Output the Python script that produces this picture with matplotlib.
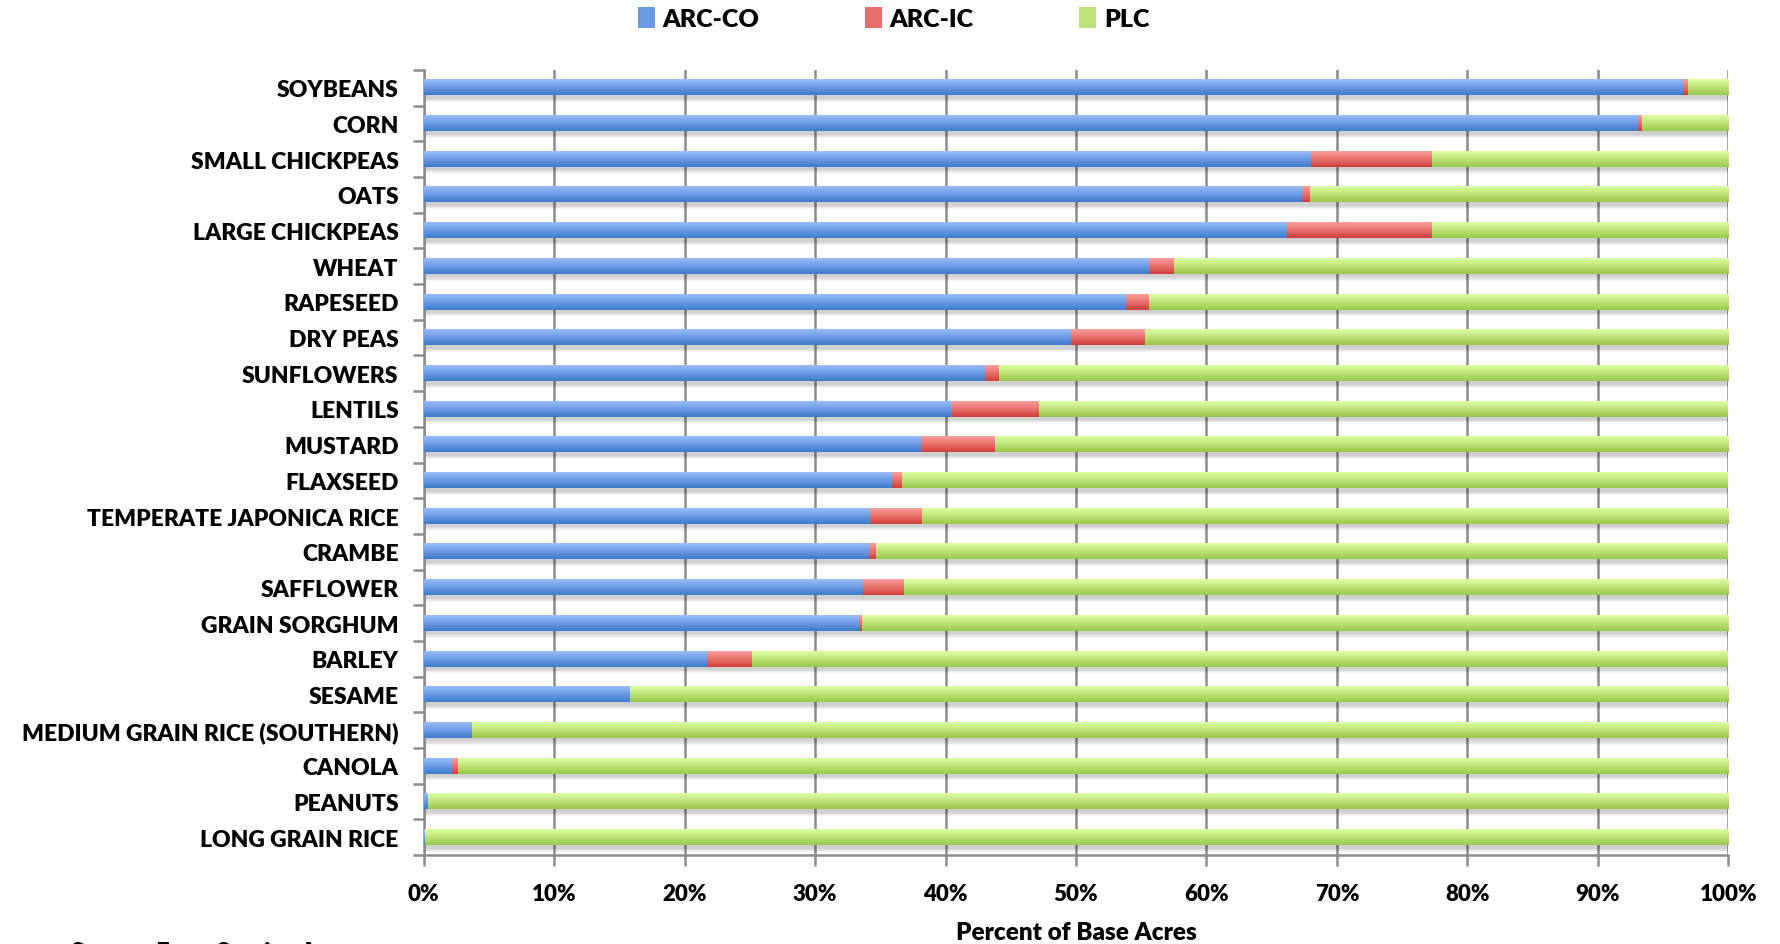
import matplotlib
matplotlib.use("Agg")
import matplotlib.pyplot as plt
import numpy as np
from matplotlib.colors import LinearSegmentedColormap
from matplotlib.patches import Patch

plt.rcParams["font.family"] = ["Lato", "DejaVu Sans"]
plt.rcParams["font.weight"] = "heavy"

crops = [
    "SOYBEANS", "CORN", "SMALL CHICKPEAS", "OATS", "LARGE CHICKPEAS",
    "WHEAT", "RAPESEED", "DRY PEAS", "SUNFLOWERS", "LENTILS", "MUSTARD",
    "FLAXSEED", "TEMPERATE JAPONICA RICE", "CRAMBE", "SAFFLOWER",
    "GRAIN SORGHUM", "BARLEY", "SESAME", "MEDIUM GRAIN RICE (SOUTHERN)",
    "CANOLA", "PEANUTS", "LONG GRAIN RICE",
]
arc_co = [96.5, 93.1, 68.0, 67.3, 66.2, 55.6, 53.8, 49.6, 43.0, 40.5, 38.1,
          35.9, 34.2, 34.1, 33.7, 33.4, 21.7, 15.8, 3.7, 2.2, 0.3, 0.1]
arc_ic = [0.4, 0.3, 9.3, 0.6, 11.1, 1.9, 1.8, 5.7, 1.1, 6.7, 5.7,
          0.8, 4.0, 0.6, 3.1, 0.2, 3.5, 0.0, 0.0, 0.4, 0.0, 0.0]
plc = [100 - a - b for a, b in zip(arc_co, arc_ic)]

series = [
    ("ARC-CO", arc_co, ("#3d7bcb", "#99bdf8"), "#6b9be4"),
    ("ARC-IC", arc_ic, ("#cf3f3b", "#fb9f9c"), "#e7706c"),
    ("PLC", plc, ("#97c84a", "#ddffa3"), "#bde378"),
]
x_ticks = np.arange(0, 101, 10)
x_tick_labels = [f"{t}%" for t in x_ticks]

fig = plt.figure(figsize=(17.8, 9.45), dpi=100)
ax = fig.add_axes([0.238, 0.094, 0.733, 0.831])

n = len(crops)
y = np.arange(n)[::-1]
bar_h = 0.43

# soft shadow under each full bar
for k, a in enumerate([0.05, 0.05, 0.05, 0.04]):
    ax.barh(y - 0.10 - 0.03 * k, [100] * n, height=bar_h, color="#000000",
            alpha=a, linewidth=0, zorder=2)

gradient = np.linspace(0, 1, 64).reshape(-1, 1)
left = np.zeros(n)
for name, vals, (dark, light), mid in series:
    cmap = LinearSegmentedColormap.from_list(name, [dark, mid, light])
    bars = ax.barh(y, vals, left=left, height=bar_h, color=mid,
                   linewidth=0, zorder=3)
    for p in bars:
        if p.get_width() <= 0:
            continue
        x0, y0 = p.get_x(), p.get_y()
        ax.imshow(gradient, cmap=cmap, origin="lower", aspect="auto",
                  interpolation="bilinear",
                  extent=(x0, x0 + p.get_width(), y0, y0 + p.get_height()),
                  zorder=4)
    left = left + np.array(vals)

ax.set_xlim(0, 100)
ax.set_ylim(-0.5, n - 0.5)
ax.set_xticks(x_ticks)
ax.set_xticklabels(x_tick_labels, fontsize=16, fontweight="heavy")
ax.set_yticks(y)
ax.set_yticklabels(crops, fontsize=16.5, fontweight="heavy")
ax.set_yticks(np.arange(n + 1) - 0.5, minor=True)
ax.tick_params(axis="y", which="major", length=0, pad=18)
ax.tick_params(axis="y", which="minor", length=8, width=1.8, color="#8c8c8c",
               direction="out")
ax.tick_params(axis="x", length=8, width=1.8, color="#8c8c8c", pad=12)
ax.grid(axis="x", color="#8c8c8c", linewidth=1.8, zorder=1)
ax.set_axisbelow(True)
for side in ("top", "right"):
    ax.spines[side].set_visible(False)
for side in ("left", "bottom"):
    ax.spines[side].set_color("#8c8c8c")
    ax.spines[side].set_linewidth(1.8)

ax.set_xlabel("Percent of Base Acres", fontsize=17.5, fontweight="heavy",
              labelpad=12)

handles = [Patch(facecolor=mid, label=name) for name, _, _, mid in series]
fig.legend(handles=handles, loc="center", bbox_to_anchor=(0.502, 0.979),
           ncol=3, frameon=False, handlelength=0.7,
           handleheight=0.9, handletextpad=0.3, columnspacing=4.2,
           prop={"weight": "heavy", "size": 18})

fig.text(0.04, 0.003, "Source: Farm Service Agency", fontsize=17,
         fontweight="heavy", va="top")

fig.savefig("out.png", dpi=100)
